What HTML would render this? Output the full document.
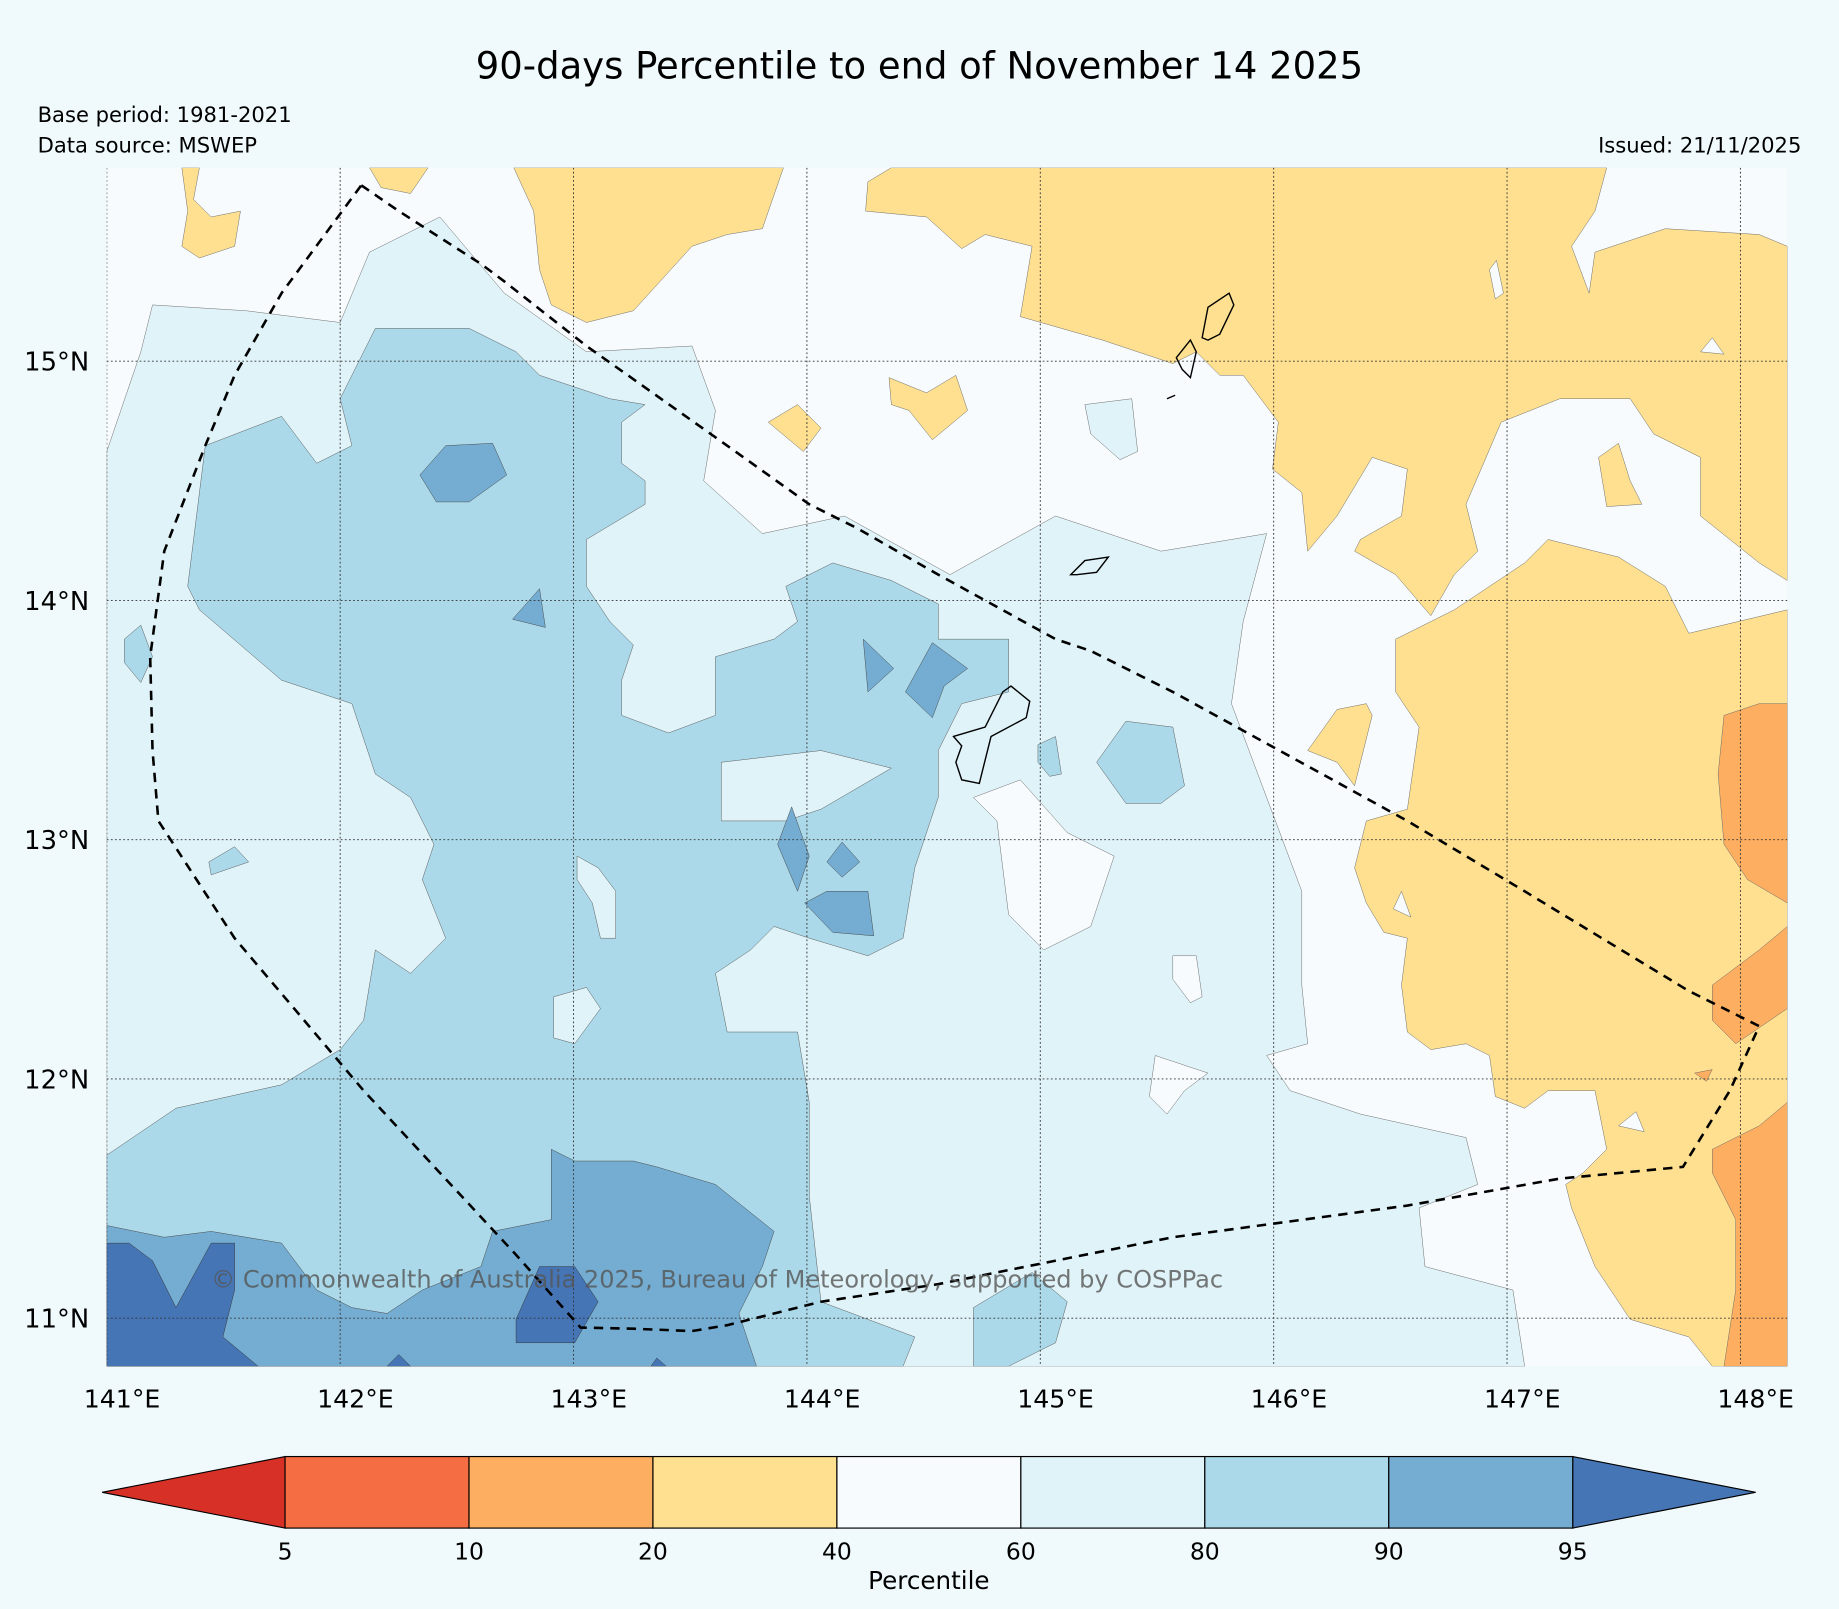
<!DOCTYPE html>
<html><head><meta charset="utf-8"><style>
html,body{margin:0;padding:0;background:#f0fafc;}
svg{display:block;font-family:"DejaVu Sans","Liberation Sans",sans-serif;}
</style></head><body>
<svg width="1839" height="1609" viewBox="0 0 1568 1372" xmlns="http://www.w3.org/2000/svg">
<rect width="1568" height="1372" fill="#f0fafc"/>
<text x="784" y="67" text-anchor="middle" font-size="31.5" fill="#000">90-days Percentile to end of November 14 2025</text>
<text x="32" y="104" font-size="18">Base period: 1981-2021</text>
<text x="32" y="130" font-size="18">Data source: MSWEP</text>
<text x="1536" y="130" font-size="18" text-anchor="end">Issued: 21/11/2025</text>
<defs><clipPath id="mapclip"><rect x="91" y="143" width="1433" height="1022"/></clipPath></defs>
<g clip-path="url(#mapclip)">
<rect x="91" y="143" width="1433" height="1022" fill="#f7fbfd"/>
<path fill="#e0f3f8" stroke="#666" stroke-width="0.4" d="M91,385 L120,300 L130,260 L210,265 L290,275 L315,215 L375,185 L430,250 L500,300 L590,295 L610,350 L600,410 L650,455 L720,440 L810,490 L900,440 L990,470 L1080,455 L1060,530 L1050,600 L1080,680 L1110,760 L1110,840 L1115,890 L1080,900 L1100,930 L1160,950 L1250,970 L1260,1010 L1210,1030 L1215,1080 L1290,1100 L1300,1165 L91,1165 Z"/>
<path fill="#f7fbfd" stroke="#666" stroke-width="0.4" d="M830,680 L870,665 L910,710 L950,730 L930,790 L890,810 L860,780 L850,700 Z M985,900 L1000,905 L1030,915 L1010,930 L995,950 L980,935 Z M1000,815 L1020,815 L1025,850 L1015,855 L1000,835 Z"/>
<path fill="#e0f3f8" stroke="#666" stroke-width="0.4" d="M925,345 L965,340 L970,385 L955,392 L930,370 Z"/>
<path fill="#abd9e9" stroke="#555" stroke-width="0.4" d="M170,520 L160,500 L175,380 L240,355 L270,395 L300,380 L290,340 L320,280 L400,280 L440,300 L460,320 L520,340 L550,345 L530,360 L530,395 L550,410 L550,430 L500,460 L500,500 L520,530 L540,550 L530,580 L530,610 L570,625 L610,610 L610,560 L660,545 L680,530 L670,500 L710,480 L760,495 L800,515 L800,545 L860,545 L860,590 L820,600 L800,640 L800,680 L780,740 L770,800 L740,815 L690,800 L660,790 L640,810 L610,830 L620,880 L680,880 L690,940 L690,1020 L700,1110 L780,1140 L770,1165 L91,1165 L91,985 L150,945 L240,925 L290,895 L310,870 L320,810 L350,830 L380,800 L360,750 L370,720 L350,680 L320,660 L300,600 L240,580 Z"/>
<path fill="#e0f3f8" stroke="#555" stroke-width="0.4" d="M615,650 L700,640 L760,655 L700,690 L670,700 L615,700 Z M492,730 L510,740 L525,760 L525,800 L512,800 L505,770 L492,750 Z M472,850 L500,842 L512,860 L490,890 L472,885 Z"/>
<path fill="#abd9e9" stroke="#555" stroke-width="0.4" d="M935,650 L960,615 L1000,620 L1010,670 L990,685 L960,685 Z M830,1115 L880,1085 L910,1110 L900,1145 L860,1165 L830,1165 Z M106,545 L120,533 L130,560 L120,582 L106,565 Z M178,735 L200,722 L212,735 L180,746 Z M885,635 L900,628 L905,660 L895,662 L885,650 Z"/>
<g fill="#74add1" stroke="#444" stroke-width="0.4">
<path d="M91,1045 L140,1055 L180,1050 L240,1060 L270,1100 L300,1115 L330,1120 L360,1100 L410,1080 L420,1050 L470,1040 L470,980 L490,990 L540,990 L560,995 L610,1010 L660,1050 L650,1080 L630,1120 L645,1165 L91,1165 Z"/>
<path d="M358,405 L380,380 L420,378 L432,405 L400,428 L372,428 Z M663,720 L675,688 L690,730 L680,760 Z M686,770 L705,760 L740,760 L745,798 L710,795 Z M772,590 L795,548 L825,570 L805,585 L795,612 Z M736,545 L762,570 L740,590 Z M437,528 L460,502 L465,535 Z M705,735 L718,718 L733,735 L718,748 Z"/>
</g>
<path fill="#4575b4" stroke="#333" stroke-width="0.4" d="M91,1060 L110,1060 L130,1075 L150,1115 L180,1060 L200,1060 L200,1100 L190,1140 L220,1165 L91,1165 Z M440,1125 L460,1080 L490,1080 L510,1110 L490,1145 L440,1145 Z M330,1165 L340,1155 L350,1165 Z M555,1165 L560,1158 L568,1165 Z"/>
<g fill="#fee090" stroke="#666" stroke-width="0.4">
<path d="M155,143 L160,180 L155,210 L170,220 L200,210 L205,180 L180,185 L165,170 L170,143 Z M315,143 L325,160 L350,165 L365,143 Z"/>
<path d="M438,143 L455,180 L460,230 L470,260 L500,275 L540,265 L590,210 L620,200 L650,195 L668,143 Z"/>
<path d="M760,143 L740,155 L738,180 L790,185 L820,212 L840,200 L880,210 L870,270 L940,290 L1000,310 L1020,300 L1040,320 L1060,320 L1090,360 L1085,400 L1110,420 L1115,470 L1140,440 L1170,390 L1200,400 L1195,440 L1160,460 L1155,470 L1190,490 L1220,525 L1240,490 L1260,470 L1250,430 L1280,360 L1330,340 L1390,340 L1410,370 L1450,390 L1450,440 L1500,480 L1524,495 L1524,210 L1500,200 L1420,195 L1360,215 L1355,250 L1340,210 L1360,180 L1370,143 Z"/>
<path d="M1155,740 L1165,700 L1200,690 L1210,620 L1190,590 L1190,545 L1240,520 L1300,480 L1320,460 L1380,475 L1420,500 L1440,540 L1524,520 L1524,1165 L1460,1165 L1440,1140 L1390,1125 L1360,1080 L1340,1030 L1335,1010 L1350,1000 L1370,980 L1360,930 L1320,930 L1300,945 L1275,935 L1270,900 L1250,890 L1220,895 L1200,880 L1195,840 L1200,800 L1180,795 L1165,770 Z"/>
<path d="M1115,640 L1140,605 L1165,600 L1170,610 L1155,670 L1140,650 Z M1363,390 L1380,378 L1390,410 L1400,430 L1370,432 Z M758,322 L790,335 L815,320 L825,350 L795,375 L775,350 L760,345 Z M655,360 L680,345 L700,365 L685,385 Z"/>
</g>
<path fill="#f7fbfd" stroke="#666" stroke-width="0.4" d="M1188,775 L1195,760 L1203,782 Z M1380,960 L1395,948 L1402,965 Z M1270,230 L1276,222 L1282,250 L1275,255 Z M1450,300 L1460,288 L1470,302 Z"/>
<g fill="#fdae61" stroke="#666" stroke-width="0.4">
<path d="M1470,610 L1500,600 L1524,600 L1524,770 L1490,750 L1470,720 L1465,660 Z M1460,840 L1500,810 L1524,790 L1524,860 L1480,890 L1460,870 Z M1460,980 L1500,960 L1524,940 L1524,1165 L1470,1165 L1480,1100 L1480,1040 L1460,1000 Z M1445,915 L1460,912 L1455,922 Z"/>
</g>
<g fill="none" stroke="#000" stroke-width="1.2">
<path d="M1025,288 L1030,262 L1048,250 L1052,260 L1040,285 L1030,290 Z M1003,305 L1015,290 L1020,300 L1015,322 L1008,315 Z M913,490 L925,478 L945,475 L935,488 L918,490 Z M813,628 L840,620 L855,590 L862,585 L878,598 L875,612 L845,628 L835,668 L820,665 L815,650 L820,636 Z M995,340 L1002,337"/>
</g>
<g id="grid"></g>
<path fill="none" stroke="#000" stroke-width="2.2" stroke-dasharray="8,6" d="M308,158 L340,180 L410,225 L430,240 L500,295 L620,380 L690,430 L730,450 L800,490 L900,545 L930,555 L1000,590 L1200,700 L1300,760 L1440,845 L1500,875 L1475,930 L1435,995 L1330,1005 L1200,1028 L1000,1055 L800,1095 L700,1110 L620,1130 L590,1135 L540,1133 L495,1132 L440,1070 L310,930 L200,800 L135,700 L130,640 L128,560 L140,470 L175,380 L200,320 L240,250 Z"/>
<text x="180" y="1098" font-size="20.5" fill="#555" fill-opacity="0.8">© Commonwealth of Australia 2025, Bureau of Meteorology, supported by COSPPac</text>
</g>
<g id="axes"></g>
<g id="cbar"></g>
<script>
const lonTicks=[141,142,143,144,145,146,147,148];
const latTicks=[15,14,13,12,11];
const cbarLevels=[5,10,20,40,60,80,90,95];
const cbarColors=["#f46d43","#fdae61","#fee090","#f7fbfd","#e0f3f8","#abd9e9","#74add1"];
const cbarUnder="#d73027", cbarOver="#4575b4";
const NS="http://www.w3.org/2000/svg";
const X0=91,X1=1524,Y0=143,Y1=1165;
function xLon(l){return 91+(l-141)*199;}
function yLat(l){return 308-(l-15)*204;}
function mk(t,a,p){const e=document.createElementNS(NS,t);for(const k in a)e.setAttribute(k,a[k]);p.appendChild(e);return e;}
const grid=document.getElementById('grid'),axes=document.getElementById('axes'),cb=document.getElementById('cbar');
lonTicks.forEach(l=>{const x=xLon(l);
 const g=mk('line',{x1:x,x2:x,y1:Y0,y2:Y1,stroke:'#333','stroke-width':0.8,'stroke-dasharray':'1.5,2'},grid);
 
 
 const t=mk('text',{x:x+13,y:1200,'text-anchor':'middle','font-size':21.5},axes);t.textContent=l+'°E';
 
 });
latTicks.forEach(l=>{const y=yLat(l);
 const g=mk('line',{x1:X0,x2:X1,y1:y,y2:y,stroke:'#333','stroke-width':0.8,'stroke-dasharray':'1.5,2'},grid);
 
 
 const t=mk('text',{x:76,y:y+8,'text-anchor':'end','font-size':22},axes);t.textContent=l+'°N';
 
 });
const CB0=243,CB1=1341,CBT=1242,CBB=1303,seg=(CB1-CB0)/(cbarLevels.length-1);
function cx(i){return CB0+i*seg;}
const lt=mk('polygon',{points:`87,${(CBT+CBB)/2} ${CB0},${CBT} ${CB0},${CBB}`,fill:cbarUnder,stroke:'#000','stroke-width':1},cb);


const rt=mk('polygon',{points:`${CB1},${CBT} 1497,${(CBT+CBB)/2} ${CB1},${CBB}`,fill:cbarOver,stroke:'#000','stroke-width':1},cb);


cbarColors.forEach((c,i)=>{const r=mk('rect',{x:cx(i),y:CBT,width:seg,height:CBB-CBT,fill:c,stroke:'#000','stroke-width':1},cb);
 
 });
cbarLevels.forEach((v,i)=>{const t=mk('text',{x:cx(i),y:1330,'text-anchor':'middle','font-size':20},cb);t.textContent=v;
 
 });
const ct=mk('text',{x:792,y:1355,'text-anchor':'middle','font-size':21},cb);ct.textContent='Percentile';


</script>
</svg>
</body></html>
